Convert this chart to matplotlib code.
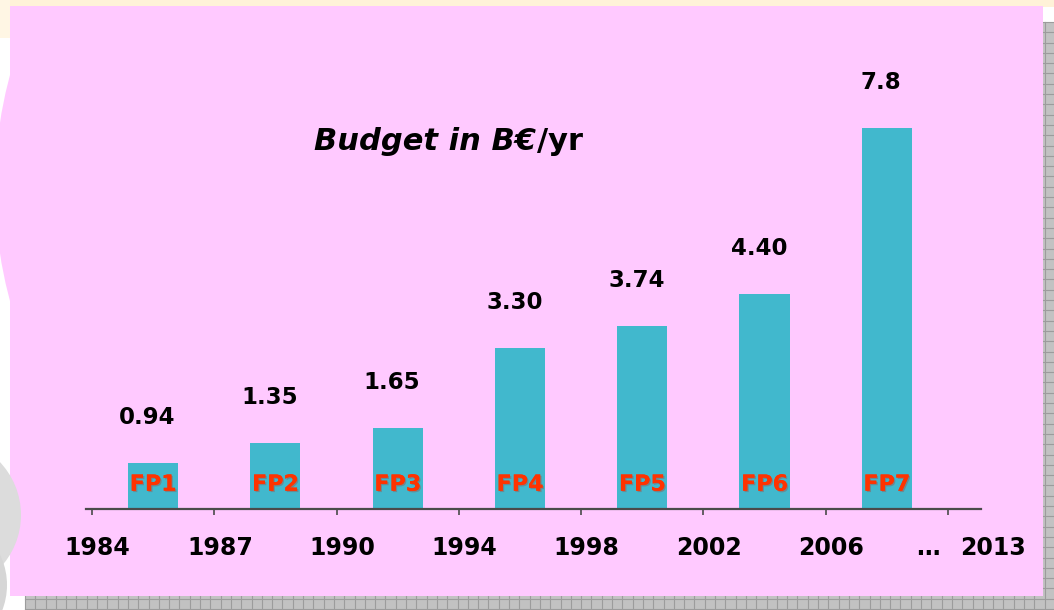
import matplotlib.pyplot as plt
import matplotlib.patheffects as pe
from matplotlib.patches import Rectangle, Circle
import numpy as np

# data
programmes = ['FP1', 'FP2', 'FP3', 'FP4', 'FP5', 'FP6', 'FP7']
budget = [0.94, 1.35, 1.65, 3.30, 3.74, 4.40, 7.8]
budget_labels = ['0.94', '1.35', '1.65', '3.30', '3.74', '4.40', '7.8']
years = ['1984', '1987', '1990', '1994', '1998', '2002', '2006']
end_labels = ['\u2026', '2013']

PINK = '#FFC9FF'
BAR = '#41B8CD'
FONT = 'DejaVu Sans'

fig = plt.figure(figsize=(10.54, 6.10), dpi=100)
fig.patch.set_facecolor('white')

# slide decorations (pixel coordinates)
bg = fig.add_axes([0, 0, 1, 1])
bg.set_xlim(0, 1054)
bg.set_ylim(610, 0)
bg.axis('off')
bg.add_patch(Circle((429, 188), 434, color=PINK, lw=0, zorder=1))
bg.add_patch(Rectangle((0, 0), 1054, 7, color='#FFF2D8', lw=0, zorder=2))
bg.add_patch(Rectangle((0, 0), 10, 38, color='#FFF6E4', lw=0, zorder=2))
bg.add_patch(Rectangle((25, 22), 1029, 588, color='#C2C2C2', lw=0, zorder=3))
for gx in np.arange(25, 1054, 10.3):
    bg.plot([gx, gx], [22, 610], color='#9C9C9C', lw=0.8, zorder=4)
for gy in np.arange(22, 610, 10.3):
    bg.plot([25, 1054], [gy, gy], color='#9C9C9C', lw=0.8, zorder=4)
bg.add_patch(Rectangle((10, 6), 1033, 590, color=PINK, lw=0, zorder=5))
bg.add_patch(Circle((-56, 515), 77, color='#DCDCDC', lw=0, zorder=6))
bg.add_patch(Circle((-63, 585), 70, color='#D6D6D6', lw=0, zorder=6))

# title
fig.text(536 / 1054, 1 - 141 / 610, 'Budget in B\u20ac', ha='right', va='center',
         fontsize=22, fontweight='bold', style='italic', family=FONT)
fig.text(537 / 1054, 1 - 141 / 610, '/yr', ha='left', va='center',
         fontsize=22, fontweight='bold', family=FONT)

# chart
ax = fig.add_axes([86 / 1054, 101 / 610, 895 / 1054, 415 / 610])
ax.patch.set_visible(False)
x = np.arange(len(budget))
ax.bar(x, budget, width=0.41, color=BAR, zorder=2)
ax.set_xlim(-0.549, 6.77)
ax.set_ylim(0, 8.5)

for s in ['left', 'right', 'top']:
    ax.spines[s].set_visible(False)
ax.spines['bottom'].set_color('#4A4A4A')
ax.spines['bottom'].set_linewidth(1.6)
ax.set_xticks(np.arange(len(years) + 1) - 0.5)
ax.tick_params(axis='x', direction='out', length=4.5, width=1.2, color='#4A4A4A',
               labelbottom=False)
ax.set_yticks([])

for xi, h, lbl in zip(x, budget, budget_labels):
    ax.annotate(lbl, (xi, h), xytext=(-4, 33), textcoords='offset points',
                ha='center', va='center', fontsize=16.5, fontweight='bold', family=FONT,
                annotation_clip=False)

shadow = [pe.withSimplePatchShadow(offset=(1, -1), shadow_rgbFace='#8A6A6A', alpha=0.6),
          pe.Normal()]
for xi, name in zip(x, programmes):
    ax.annotate(name, (xi, 0), xytext=(0, 17.5), textcoords='offset points',
                ha='center', va='center', fontsize=16, fontweight='bold', family=FONT,
                color='#FF3300', path_effects=shadow, zorder=3)

for i, yr in enumerate(years):
    ax.annotate(yr, (i - 0.5, 0), xycoords=('data', 'axes fraction'),
                xytext=(4, -28), textcoords='offset points', ha='center', va='center',
                fontsize=17, fontweight='bold', family=FONT, annotation_clip=False)
for lbl, dx in zip(end_labels, [-14.4, 32.4]):
    ax.annotate(lbl, (len(years) - 0.5, 0), xycoords=('data', 'axes fraction'),
                xytext=(dx, -28), textcoords='offset points', ha='center', va='center',
                fontsize=17, fontweight='bold', family=FONT, annotation_clip=False)

fig.savefig('out.png', dpi=100)
